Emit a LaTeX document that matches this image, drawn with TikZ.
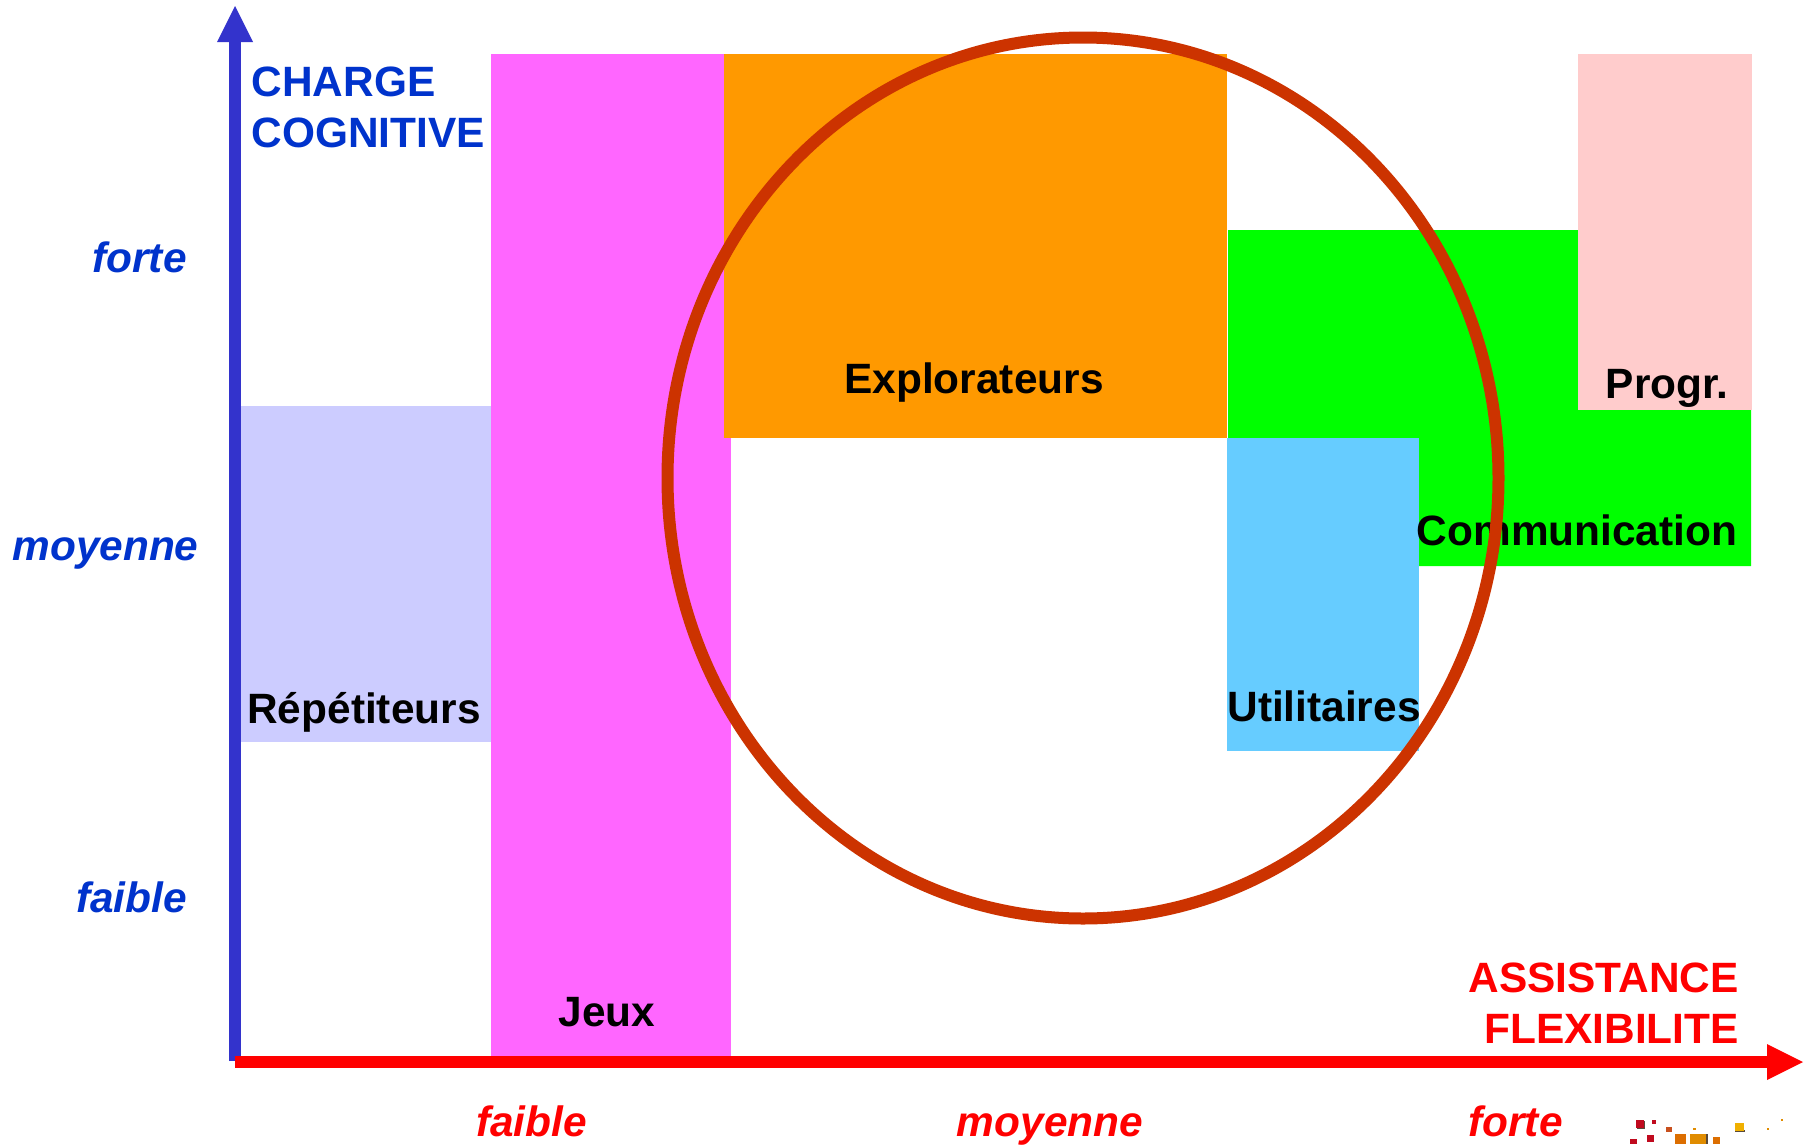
\documentclass[tikz,border=0pt]{standalone}
\usepackage{fontspec}
\usetikzlibrary{shapes.geometric}
\setmainfont{Liberation Sans}
\definecolor{axisblue}{HTML}{3333CC}
\definecolor{textblue}{HTML}{0033CC}
\definecolor{pinkbar}{HTML}{FF66FF}
\definecolor{orangebar}{HTML}{FF9900}
\definecolor{lavbar}{HTML}{CCCCFF}
\definecolor{skybar}{HTML}{66CCFF}
\definecolor{rosebar}{HTML}{FFCCCC}
\definecolor{circ}{HTML}{CC3300}
\definecolor{sqa}{HTML}{C00A1E}
\definecolor{sqb}{HTML}{C8501E}
\definecolor{sqc}{HTML}{DC6E00}
\definecolor{sqd}{HTML}{E08C00}
\definecolor{sqe}{HTML}{F0B000}
\definecolor{sqs}{HTML}{5A4A3A}
\tikzset{
  x=1pt,y=-1pt,
  lab/.style={font=\fontsize{42.4}{42.4}\selectfont\bfseries,anchor=base,inner sep=0pt,text=black},
  axisy/.style={font=\fontsize{42.4}{42.4}\selectfont\bfseries,anchor=base west,inner sep=0pt,text=textblue},
  axisx/.style={font=\fontsize{42.4}{42.4}\selectfont\bfseries,anchor=base east,inner sep=0pt,text=red},
  levely/.style={font=\fontsize{42.4}{42.4}\selectfont\bfseries\itshape,anchor=base,inner sep=0pt,text=textblue},
  levelx/.style={font=\fontsize{42.4}{42.4}\selectfont\bfseries\itshape,anchor=base,inner sep=0pt,text=red},
  block/.style={draw=none},
  sq/.style={draw=none}
}
\begin{document}
\begin{tikzpicture}
\useasboundingbox (0,0) rectangle (1810,1144);
\clip (0,0) rectangle (1810,1144);
\fill[white] (0,0) rectangle (1810,1144);
% blocks
\fill[block,lavbar] (240,406) rectangle (491,742);
\fill[block,pinkbar] (491,54) rectangle (731,1057);
\fill[block,orangebar] (724,54) rectangle (1227,438);
\fill[block,green] (1228,230) -- (1578,230) -- (1578,410) -- (1751,410) -- (1751,566) -- (1419,566) -- (1419,438) -- (1228,438) -- cycle;
\fill[block,skybar] (1227,438) rectangle (1419,751);
\fill[block,rosebar] (1578,54) rectangle (1752,410);
% labels
\node[lab] (rep) at (364,723) {Répétiteurs};
\node[lab] (jeux) at (607,1026) {Jeux};
\node[lab] (expl) at (974,393) {Explorateurs};
\node[lab] (prog) at (1667,398) {Progr.};
\node[lab] (comm) at (1577,545) {Communication};
\node[lab] (util) at (1324,721) {Utilitaires};
% circle
\node[draw=circ,line width=12pt,ellipse,minimum width=831pt,minimum height=881pt,inner sep=0pt] (ring) at (1083,478) {};
% axes
\coordinate (yo) at (235,1061);
\coordinate (ye) at (235,42);
\coordinate (yt) at (235,6);
\coordinate (xo) at (235,1062);
\coordinate (xe) at (1767,1062);
\coordinate (xt) at (1803,1062);
\draw[axisblue,line width=12pt] (yo) -- (ye);
\fill[axisblue] (yt) -- ([xshift=-18pt]ye) -- ([xshift=18pt]ye) -- cycle;
\draw[red,line width=12pt] (xo) -- (xe);
\fill[red] (xt) -- ([yshift=-18pt]xe) -- ([yshift=18pt]xe) -- cycle;
% axis titles
\node[axisy] (t1) at (251.5,96) {CHARGE};
\node[axisy] (t2) at (251.5,147) {COGNITIVE};
\node[axisx] (t3) at (1739,992) {ASSISTANCE};
\node[axisx] (t4) at (1739,1043) {FLEXIBILITE};
\node[levely] (yf) at (139.5,272) {forte};
\node[levely] (ym) at (105.5,560) {moyenne};
\node[levely] (yl) at (131.5,912) {faible};
\node[levelx] (xl) at (531.5,1136) {faible};
\node[levelx] (xm) at (1050,1136) {moyenne};
\node[levelx] (xf) at (1515.5,1136) {forte};
% logo squares
\fill[sq,sqs] (1637,1121) rectangle (1645,1129);
\fill[sq,sqa] (1636,1120) rectangle (1644,1128);
\fill[sq,sqa] (1652,1120) rectangle (1656,1124);
\fill[sq,sqb] (1666,1127) rectangle (1672,1132);
\fill[sq,sqd] (1693,1128) rectangle (1696,1130);
\fill[sq,sqs] (1735,1130) rectangle (1745,1132);
\fill[sq,sqe] (1735,1123) rectangle (1744,1131);
\fill[sq,sqd] (1767,1128) rectangle (1769,1130);
\fill[sq,sqd] (1781,1119) rectangle (1783,1121);
\fill[sq,sqa] (1630,1139) rectangle (1637,1144);
\fill[sq,sqa] (1647,1135) rectangle (1654,1142);
\fill[sq,sqc] (1675,1134) rectangle (1686,1144);
\fill[sq,sqs] (1706,1134) rectangle (1708,1144);
\fill[sq,sqd] (1690,1134) rectangle (1706,1144);
\fill[sq,sqc] (1713,1137) rectangle (1720,1144);
\end{tikzpicture}
\end{document}
